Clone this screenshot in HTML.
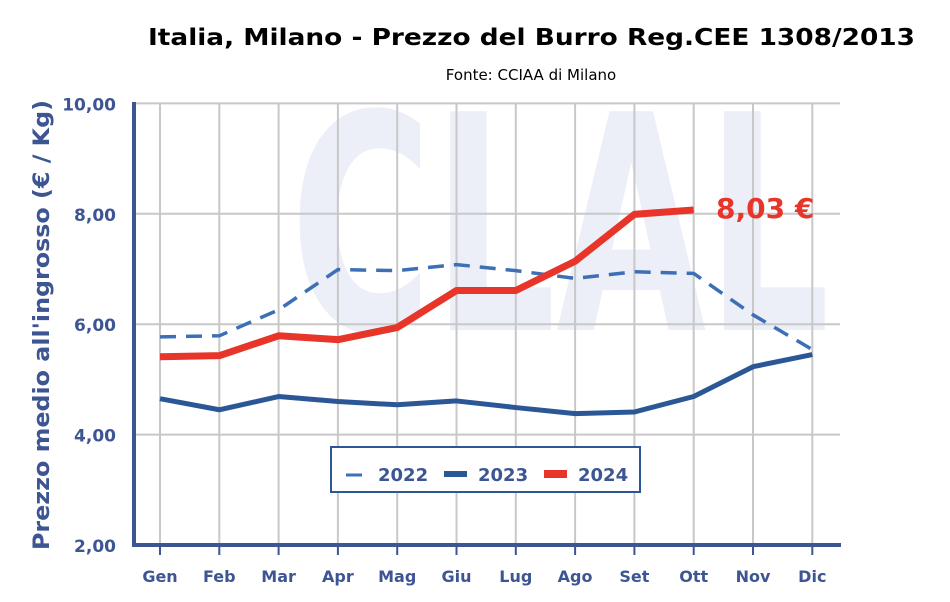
<!DOCTYPE html>
<html><head><meta charset="utf-8"><style>
body{margin:0;background:#fff;width:950px;height:602px;overflow:hidden}
svg{display:block;font-family:"DejaVu Sans","Liberation Sans",sans-serif}
</style></head><body>
<svg id="c" width="950" height="602">
<text x="148" y="45" textLength="767" lengthAdjust="spacingAndGlyphs" font-size="23" font-weight="bold" fill="#000">Italia, Milano - Prezzo del Burro Reg.CEE 1308/2013</text>
<text x="531" y="80" text-anchor="middle" font-size="15" fill="#000">Fonte: CCIAA di Milano</text>
<text x="290" y="330" textLength="540" lengthAdjust="spacingAndGlyphs" font-size="300" font-weight="bold" fill="#eceef8">CLAL</text>
<g id="grid"></g>
<g id="series"></g>
<text x="716" y="218" font-size="28" font-weight="bold" fill="#e8352a">8,03 €</text>
<text transform="translate(49,550) rotate(-90)" textLength="450" lengthAdjust="spacingAndGlyphs" font-size="22" font-weight="bold" fill="#3d5592">Prezzo medio all'ingrosso (€ / Kg)</text>
<g>
<rect x="331" y="447" width="309" height="45" fill="#fff" stroke="#2c5797" stroke-width="2"/>
<line x1="346" y1="475" x2="362" y2="475" stroke="#3c6fb5" stroke-width="3"/>
<text x="378" y="481" font-size="18" font-weight="bold" fill="#3d5592">2022</text>
<line x1="444" y1="474" x2="467" y2="474" stroke="#2c5797" stroke-width="6"/>
<text x="478" y="481" font-size="18" font-weight="bold" fill="#3d5592">2023</text>
<line x1="544" y1="474" x2="567" y2="474" stroke="#e8352a" stroke-width="8"/>
<text x="578" y="481" font-size="18" font-weight="bold" fill="#3d5592">2024</text>
</g>
</svg>
<script>
const months=["Gen","Feb","Mar","Apr","Mag","Giu","Lug","Ago","Set","Ott","Nov","Dic"];
const yTicks=[2,4,6,8,10];
const s2022=[5.77,5.79,6.26,6.99,6.97,7.08,6.97,6.83,6.95,6.92,6.17,5.54];
const s2023=[4.65,4.45,4.69,4.60,4.54,4.61,4.49,4.38,4.41,4.69,5.23,5.45];
const s2024=[5.41,5.43,5.79,5.72,5.94,6.61,6.61,7.14,7.99,8.07];
const NS="http://www.w3.org/2000/svg";
const X0=160,DX=59.3,Y2=545,PU=55.2;
function x(i){return X0+i*DX;}
function y(v){return Y2-(v-2)*PU;}
const g=document.getElementById('grid'),sg=document.getElementById('series');
function mk(tag,attrs,parent){const e=document.createElementNS(NS,tag);for(const k in attrs)e.setAttribute(k,attrs[k]);parent.appendChild(e);return e;}
yTicks.forEach(v=>{
 if(v>2){const l=mk('line',{x1:134,x2:840,y1:y(v),y2:y(v),stroke:'#c8c8c8','stroke-width':2},g);
 
 }
 const t=mk('text',{x:116,y:y(v)+7,'text-anchor':'end','font-size':17,'font-weight':'bold',fill:'#3d5592'},g);
 t.textContent=v.toFixed(2).replace('.',',');
 
 
});
months.forEach((m,i)=>{
 const l=mk('line',{x1:x(i),x2:x(i),y1:104,y2:545,stroke:'#c8c8c8','stroke-width':2},g);
 
 
 const tk=mk('line',{x1:x(i),x2:x(i),y1:545,y2:555,stroke:'#3d5592','stroke-width':2},g);
 
 
 const t=mk('text',{x:x(i),y:582,'text-anchor':'middle','font-size':16,'font-weight':'bold',fill:'#3d5592'},g);
 t.textContent=m;
 
 
});
const ax=mk('path',{d:'M134,102 V545 H841',fill:'none',stroke:'#3d5592','stroke-width':4},g);


function line(arr,stroke,w,dash,name){
 const p=mk('polyline',{points:arr.map((v,i)=>x(i)+','+y(v)).join(' '),fill:'none',stroke:stroke,'stroke-width':w,'stroke-linejoin':'round'},sg);
 if(dash)p.setAttribute('stroke-dasharray',dash);
 
 
}
line(s2022,'#3c6fb5',3.5,'16,10','series-2022');
line(s2023,'#2c5797',5,null,'series-2023');
line(s2024,'#e8352a',7,null,'series-2024');
</script>
</body></html>
